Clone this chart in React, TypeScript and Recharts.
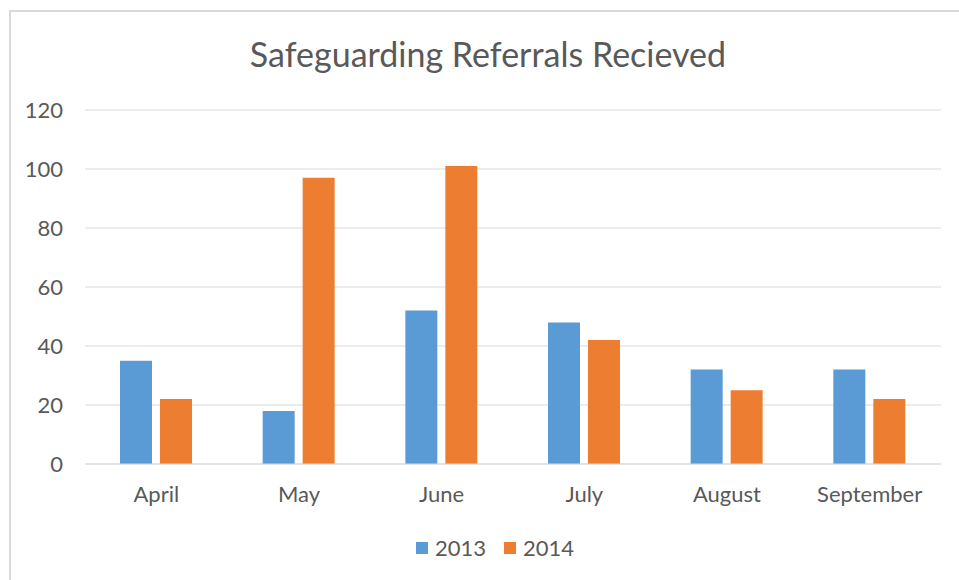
import React from "react";
import { BarChart, Bar, XAxis, YAxis, CartesianGrid } from "recharts";

const months = ["April", "May", "June", "July", "August", "September"];
const values2013 = [35, 18, 52, 48, 32, 32];
const values2014 = [22, 97, 101, 42, 25, 22];
const yTicks = [0, 20, 40, 60, 80, 100, 120];

const data = months.map((m, i) => ({ month: m, y2013: values2013[i], y2014: values2014[i] }));

const FONT = "Lato, 'Liberation Sans', sans-serif";
const TEXT = "#595959";
const BLUE = "#5B9BD5";
const ORANGE = "#ED7D31";

export default function App() {
  return (
    <div style={{ position: "absolute", left: 0, top: 0, width: 959, height: 580, overflow: "hidden", background: "#fff", fontFamily: FONT }}>
      <div style={{ position: "absolute", left: 9, top: 10, width: 1200, height: 1200, border: "2px solid #d9d9d9", boxSizing: "border-box" }} />
      <div style={{ position: "absolute", left: 0, width: 976, top: 34, textAlign: "center", fontSize: 34, color: TEXT, lineHeight: "40px" }}>
        Safeguarding Referrals Recieved
      </div>
      <div style={{ position: "absolute", left: 0, top: 0 }}>
        <BarChart width={959} height={580} data={data} margin={{ top: 110, right: 18, bottom: 86, left: 10 }} barSize={32} barGap={8}>
          <CartesianGrid vertical={false} stroke="#d9d9d9" strokeWidth={1} />
          <XAxis dataKey="month" axisLine={{ stroke: "#d9d9d9" }} tickLine={false} tickMargin={16} tick={{ fill: TEXT, fontSize: 22, fontFamily: FONT }} />
          <YAxis width={75} domain={[0, 120]} ticks={yTicks} axisLine={false} tickLine={false} tickMargin={16} tick={{ fill: TEXT, fontSize: 22, fontFamily: FONT }} />
          <Bar dataKey="y2013" fill={BLUE} isAnimationActive={false} />
          <Bar dataKey="y2014" fill={ORANGE} isAnimationActive={false} />
        </BarChart>
      </div>
      <div style={{ position: "absolute", top: 534, left: 0, width: 990, display: "flex", justifyContent: "center", gap: 18, fontSize: 22, color: TEXT, lineHeight: "28px" }}>
        <span style={{ display: "flex", alignItems: "center" }}>
          <span style={{ width: 12, height: 12, background: BLUE, display: "inline-block", marginRight: 7 }} />2013
        </span>
        <span style={{ display: "flex", alignItems: "center" }}>
          <span style={{ width: 12, height: 12, background: ORANGE, display: "inline-block", marginRight: 7 }} />2014
        </span>
      </div>
    </div>
  );
}
